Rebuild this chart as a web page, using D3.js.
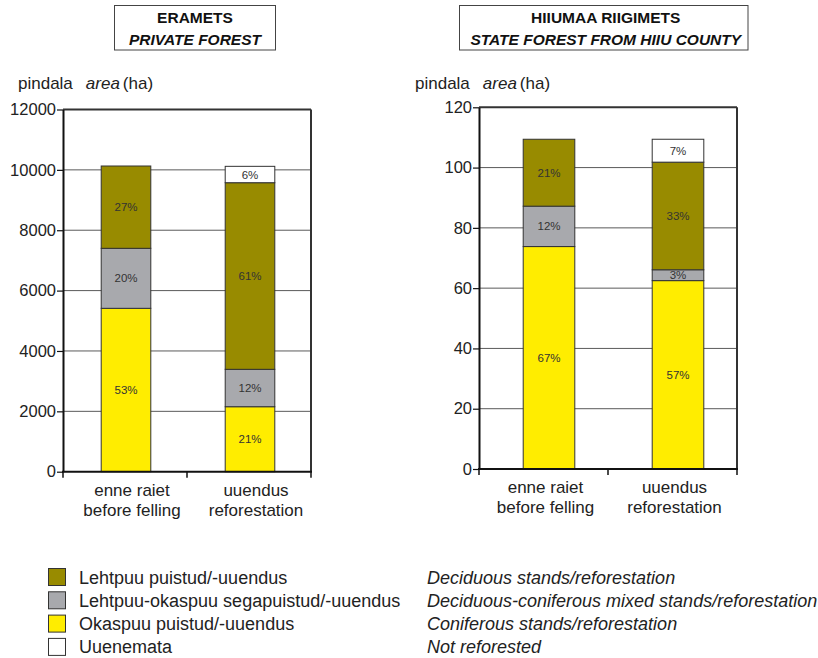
<!DOCTYPE html>
<html><head><meta charset="utf-8">
<script src="https://cdn.jsdelivr.net/npm/d3@7"></script>
<style>
body{margin:0;background:#fff;}
svg{display:block;font-family:"Liberation Sans",Arial,sans-serif;}
</style></head><body>
<svg id="c" width="818" height="658"></svg>
<script>
// ---- data ----
const categoriesEt = ["enne raiet", "uuendus"];
const categoriesEn = ["before felling", "reforestation"];
const seriesKeys = ["coniferous", "mixed", "deciduous", "notReforested"];
const seriesNamesEt = ["Lehtpuu puistud/-uuendus", "Lehtpuu-okaspuu segapuistud/-uuendus", "Okaspuu puistud/-uuendus", "Uuenemata"];
const seriesNamesEn = ["Deciduous stands/reforestation", "Deciduous-coniferous mixed stands/reforestation", "Coniferous stands/reforestation", "Not reforested"];
const legendKeys = ["deciduous", "mixed", "coniferous", "notReforested"];

// Eramets (private forest), ha
const eraConiferous = [5413, 2153];
const eraMixed = [1988, 1239];
const eraDeciduous = [2727, 6183];
const eraNotReforested = [0, 542];
const eraPctConiferous = ["53%", "21%"];
const eraPctMixed = ["20%", "12%"];
const eraPctDeciduous = ["27%", "61%"];
const eraPctNotReforested = ["", "6%"];
const eraTicks = [0, 2000, 4000, 6000, 8000, 10000, 12000];

// Hiiumaa riigimets (state forest), ha
const hiiConiferous = [73.8, 62.5];
const hiiMixed = [13.4, 3.6];
const hiiDeciduous = [22.2, 35.7];
const hiiNotReforested = [0, 7.6];
const hiiPctConiferous = ["67%", "57%"];
const hiiPctMixed = ["12%", "3%"];
const hiiPctDeciduous = ["21%", "33%"];
const hiiPctNotReforested = ["", "7%"];
const hiiTicks = [0, 20, 40, 60, 80, 100, 120];

const colors = {deciduous: "#988b00", mixed: "#a8a9ad", coniferous: "#ffed00", notReforested: "#ffffff"};

const svg = d3.select("#c");

function buildRows(con, mix, dec, nr, pc, pm, pd, pn) {
  return categoriesEt.map((c, i) => ({
    cat: c, coniferous: con[i], mixed: mix[i], deciduous: dec[i], notReforested: nr[i],
    pct: {coniferous: pc[i], mixed: pm[i], deciduous: pd[i], notReforested: pn[i]}
  }));
}

function drawChart(cfg) {
  const g = svg.append("g");
  // title box
  g.append("rect").attr("x", cfg.box[0]).attr("y", cfg.box[1]).attr("width", cfg.box[2]).attr("height", cfg.box[3])
    .attr("fill", "#fff").attr("stroke", "#444").attr("stroke-width", 1);
  const bcx = cfg.box[0] + cfg.box[2] / 2 + cfg.titleDx;
  g.append("text").attr("x", bcx).attr("y", 23).attr("text-anchor", "middle")
    .attr("font-size", 15.5).attr("font-weight", "bold").attr("fill", "#111").text(cfg.title1);
  g.append("text").attr("x", bcx).attr("y", 44.5).attr("text-anchor", "middle")
    .attr("font-size", 15.5).attr("font-weight", "bold").attr("font-style", "italic").attr("fill", "#111").text(cfg.title2);

  // y axis title
  const yt = g.append("text").attr("x", cfg.yTitleX).attr("y", 89).attr("font-size", 17).attr("fill", "#222");
  yt.append("tspan").text("pindala");
  yt.append("tspan").attr("dx", 13).attr("font-style", "italic").text("area");
  yt.append("tspan").attr("dx", 3).text("(ha)");

  const x = d3.scaleBand().domain(categoriesEt).range([cfg.left, cfg.right]).paddingInner(0.6).paddingOuter(0.3);
  const y = d3.scaleLinear().domain([0, cfg.ticks[cfg.ticks.length - 1]]).range([cfg.bottom, cfg.top]);

  // gridlines
  g.append("g").selectAll("line").data(cfg.ticks.filter(t => t > 0 && t < cfg.ticks[cfg.ticks.length - 1]))
    .join("line").attr("x1", cfg.left).attr("x2", cfg.right).attr("y1", d => y(d)).attr("y2", d => y(d))
    .attr("stroke", "#5a5a5a").attr("stroke-width", 1);

  // frame top & right
  g.append("line").attr("x1", cfg.left).attr("x2", cfg.right).attr("y1", cfg.top).attr("y2", cfg.top)
    .attr("stroke", "#333").attr("stroke-width", 2);
  g.append("line").attr("x1", cfg.right).attr("x2", cfg.right).attr("y1", cfg.top).attr("y2", cfg.bottom)
    .attr("stroke", "#333").attr("stroke-width", 2);

  // bars
  const stack = d3.stack().keys(seriesKeys);
  const layers = stack(cfg.rows);
  const bw = x.bandwidth();
  layers.forEach(layer => {
    const key = layer.key;
    const lg = g.append("g");
    lg.selectAll("rect").data(layer.filter(d => d[1] - d[0] > 0)).join("rect")
      .attr("x", d => x(d.data.cat) + cfg.barShift)
      .attr("width", bw)
      .attr("y", d => y(d[1]))
      .attr("height", d => y(d[0]) - y(d[1]))
      .attr("fill", colors[key]).attr("stroke", "#333").attr("stroke-width", 1);
    lg.selectAll("text").data(layer.filter(d => d[1] - d[0] > 0 && d.data.pct[key])).join("text")
      .attr("x", d => x(d.data.cat) + cfg.barShift + bw / 2)
      .attr("y", d => (y(d[0]) + y(d[1])) / 2)
      .attr("dy", "0.36em").attr("text-anchor", "middle")
      .attr("font-size", 11.5).attr("fill", "#333").text(d => d.data.pct[key]);
  });

  // y axis
  const ya = g.append("g").attr("transform", `translate(${cfg.left},0)`)
    .call(d3.axisLeft(y).tickValues(cfg.ticks).tickFormat(d3.format("d")).tickSize(6).tickSizeOuter(0).tickPadding(1));
  ya.select(".domain").attr("stroke", "#111").attr("stroke-width", 2);
  ya.selectAll(".tick line").attr("stroke", "#111").attr("stroke-width", 1.2);
  ya.selectAll(".tick text").attr("font-size", 16.5).attr("fill", "#222").attr("font-family", "Liberation Sans, Arial, sans-serif");

  // x axis (ticks at category boundaries)
  const xa = g.append("g").attr("transform", `translate(0,${cfg.bottom})`);
  xa.append("line").attr("x1", cfg.left - 1).attr("x2", cfg.right + 1).attr("stroke", "#111").attr("stroke-width", 2);
  const bounds = [cfg.left, (cfg.left + cfg.right) / 2, cfg.right];
  xa.selectAll("line.t").data(bounds).join("line").attr("class", "t")
    .attr("x1", d => d).attr("x2", d => d).attr("y1", 0).attr("y2", 6).attr("stroke", "#111").attr("stroke-width", 1.5);

  // category labels
  categoriesEt.forEach((c, i) => {
    const cx = x(c) + bw / 2 + cfg.labelShift;
    g.append("text").attr("x", cx).attr("y", cfg.bottom + 24).attr("text-anchor", "middle")
      .attr("font-size", 17).attr("fill", "#222").text(c);
    g.append("text").attr("x", cx).attr("y", cfg.bottom + 44).attr("text-anchor", "middle")
      .attr("font-size", 17).attr("fill", "#222").text(categoriesEn[i]);
  });
}

drawChart({
  box: [114.5, 5.5, 161, 44.5], titleDx: 0, title1: "ERAMETS", title2: "PRIVATE FOREST",
  yTitleX: 18, left: 63, right: 311, top: 109.5, bottom: 471.7, barShift: 1, labelShift: 7,
  ticks: eraTicks,
  rows: buildRows(eraConiferous, eraMixed, eraDeciduous, eraNotReforested, eraPctConiferous, eraPctMixed, eraPctDeciduous, eraPctNotReforested)
});
drawChart({
  box: [459.5, 5.5, 288.5, 44.5], titleDx: 2, title1: "HIIUMAA RIIGIMETS", title2: "STATE FOREST FROM HIIU COUNTY",
  yTitleX: 415, left: 479, right: 737, top: 107.3, bottom: 469, barShift: 5.5, labelShift: 2,
  ticks: hiiTicks,
  rows: buildRows(hiiConiferous, hiiMixed, hiiDeciduous, hiiNotReforested, hiiPctConiferous, hiiPctMixed, hiiPctDeciduous, hiiPctNotReforested)
});

// legend
const legend = svg.append("g");
legendKeys.forEach((k, i) => {
  const yy = 568 + i * 23.3;
  legend.append("rect").attr("x", 48.5).attr("y", yy + 0.5).attr("width", 17).attr("height", 17)
    .attr("fill", colors[k]).attr("stroke", "#333").attr("stroke-width", 1);
  legend.append("text").attr("x", 79).attr("y", yy + 15.5).attr("font-size", 18).attr("fill", "#222").text(seriesNamesEt[i]);
  legend.append("text").attr("x", 427).attr("y", yy + 15.5).attr("font-size", 18).attr("font-style", "italic").attr("fill", "#222").text(seriesNamesEn[i]);
});
</script>
</body></html>
